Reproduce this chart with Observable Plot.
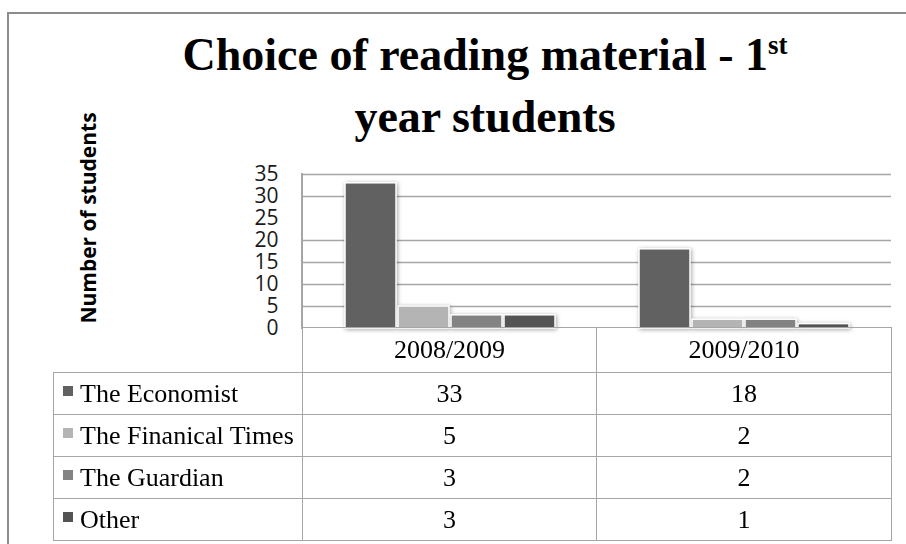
<!DOCTYPE html>
<html>
<head>
<meta charset="utf-8">
<script src="https://cdn.jsdelivr.net/npm/d3@7"></script>
<script src="https://cdn.jsdelivr.net/npm/@observablehq/plot@0.6"></script>
<style>
  html, body { margin: 0; padding: 0; background: #fff; }
  #wrap { position: relative; width: 906px; height: 544px; overflow: hidden; background: #fff; }
  #frame { position: absolute; left: 7px; top: 12px; width: 1200px; height: 1200px;
           border-left: 2px solid #8c8c8c; border-top: 2px solid #8c8c8c; box-sizing: border-box; }
  #title { position: absolute; left: 0; top: 26.5px; width: 970px; text-align: center;
           font: bold 46px "Liberation Serif", serif; line-height: 56px; color: #000; }
  #title .sup { font-size: 27px; position: relative; top: -16px; }
  #ylabel { position: absolute; left: 88px; top: 218px; transform: translate(-50%, -50%) rotate(-90deg);
            white-space: nowrap; font: bold 21px "Open Sans", sans-serif; color: #000; }
  #chart { position: absolute; left: 0; top: 150px; }
  #axisline { position: absolute; left: 301px; top: 173px; width: 1.5px; height: 156px; background: #a6a6a6; }
  #table { position: absolute; left: 53px; top: 327px; border-collapse: collapse; table-layout: fixed;
           font: 26px "Liberation Serif", serif; color: #000; }
  #table td { border: 1.5px solid #a6a6a6; padding: 0; text-align: center; white-space: nowrap; overflow: hidden; }
  #table tr.head td { height: 44px; }
  #table tr.data td { height: 41px; }
  #table td.blank { border-top: none; border-left: none; }
  #table td.lab { text-align: left; padding-left: 9px; }
  #table .mk { display: inline-block; width: 10px; height: 10px; margin-right: 7px; vertical-align: 6px; }
</style>
</head>
<body>
<div id="wrap">
  <div id="frame"></div>
  <div id="title"></div>
  <div id="ylabel"></div>
  <div id="chart"></div>
  <div id="axisline"></div>
  <table id="table"></table>
</div>
<script>
// ---- data ----
const titleMain = "Choice of reading material - 1";
const titleSup = "st";
const titleLine2 = "year students";
const yLabel = "Number of students";
const years = ["2008/2009", "2009/2010"];
const series = ["The Economist", "The Finanical Times", "The Guardian", "Other"];
const economist = [33, 18];
const financialTimes = [5, 2];
const guardian = [3, 2];
const other = [3, 1];
const colors = ["#616161", "#b4b4b4", "#838383", "#545454"];
const yTicks = [0, 5, 10, 15, 20, 25, 30, 35];
const gridValues = [5, 10, 15, 20, 30, 35];

const seriesValues = [economist, financialTimes, guardian, other];
const rows = years.flatMap((yr, i) => series.map((s, j) => ({year: yr, series: s, value: seriesValues[j][i]})));

// ---- title & label ----
const t = document.getElementById("title");
t.innerHTML = "";
t.append(titleMain);
const sup = document.createElement("span"); sup.className = "sup"; sup.textContent = titleSup;
t.append(sup);
t.append(document.createElement("br"));
t.append(titleLine2);
document.getElementById("ylabel").textContent = yLabel;

// ---- chart ----
const chart = Plot.plot({
  width: 906,
  height: 184,
  marginLeft: 302,
  marginRight: 15,
  marginTop: 24,
  marginBottom: 6,
  style: {fontFamily: '"Open Sans", sans-serif', fontSize: "21px", background: "transparent", overflow: "visible", color: "#1a1a1a"},
  fx: {domain: years, padding: 0, axis: null},
  x: {domain: series, paddingInner: 0.04, paddingOuter: 0.77, axis: null},
  y: {domain: [0, 35]},
  color: {domain: series, range: colors},
  marks: [
    Plot.ruleY(gridValues, {stroke: "#a6a6a6", strokeWidth: 1.3, strokeOpacity: 1}),
    Plot.barY(rows, {fx: "year", x: "series", y: "value", fill: "series", stroke: "white", strokeWidth: 1.5}),
    Plot.axisY(yTicks, {tickSize: 0, tickPadding: 25, fontSize: 21, label: null, fill: "#1a1a1a"})
  ]
});
document.getElementById("chart").append(chart);
chart.querySelectorAll('g[aria-label="bar"]').forEach(g => {
  g.style.filter = "drop-shadow(1px 1px 2px rgba(0,0,0,0.35))";
});

// ---- data table ----
const table = document.getElementById("table");
const colgroup = document.createElement("colgroup");
[249, 294, 295].forEach(w => { const c = document.createElement("col"); c.style.width = w + "px"; colgroup.append(c); });
table.append(colgroup);
const head = document.createElement("tr"); head.className = "head";
const blank = document.createElement("td"); blank.className = "blank"; head.append(blank);
years.forEach(y => { const td = document.createElement("td"); td.textContent = y; head.append(td); });
table.append(head);
series.forEach((s, j) => {
  const tr = document.createElement("tr"); tr.className = "data";
  const lab = document.createElement("td"); lab.className = "lab";
  const mk = document.createElement("span"); mk.className = "mk"; mk.style.background = colors[j];
  lab.append(mk, s);
  tr.append(lab);
  years.forEach((y, i) => { const td = document.createElement("td"); td.textContent = seriesValues[j][i]; tr.append(td); });
  table.append(tr);
});
</script>
</body>
</html>
